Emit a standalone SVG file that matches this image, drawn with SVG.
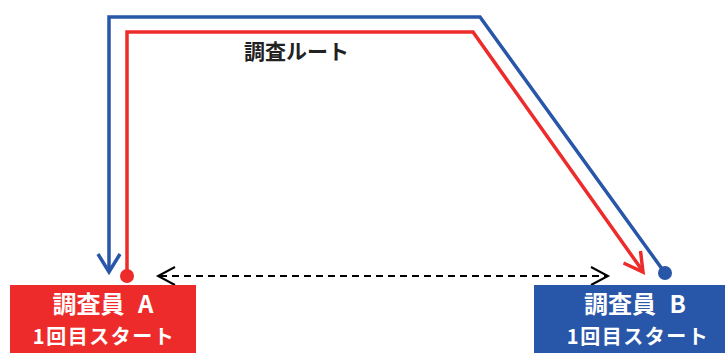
<svg xmlns="http://www.w3.org/2000/svg" width="725" height="353" viewBox="0 0 725 353">
<style>
.route{fill:none;stroke-width:3.5;stroke-linejoin:miter}
.blue{stroke:#2856a8}
.red{stroke:#ee2b2b}
.head{fill:none;stroke-width:3.5;stroke-linecap:butt;stroke-linejoin:miter}
.dash{fill:none;stroke:#000;stroke-width:2;stroke-dasharray:7,5}
.dhead{fill:none;stroke:#000;stroke-width:2}
.t1{font-family:"Noto Sans CJK JP","Liberation Sans",sans-serif;font-weight:bold;font-size:24px;fill:#fff;text-anchor:middle;word-spacing:8px}
.t2{font-family:"Noto Sans CJK JP","Liberation Sans",sans-serif;font-weight:bold;font-size:20px;fill:#fff;text-anchor:middle;letter-spacing:1.5px}
.title{font-family:"Noto Sans CJK JP","Liberation Sans",sans-serif;font-weight:bold;font-size:21px;fill:#222}
</style>
<rect width="725" height="353" fill="#fff"/>
<g id="connectors">
<path class="route blue" d="M665,273 L480,17 L109,17 L109,271"/>
<path class="head blue" d="M98,254 L109,272 L120,254"/>
<circle cx="665" cy="273" r="7" fill="#2856a8"/>
<path class="route red" d="M127,276 L127,32 L473,32 L642,270"/>
<path class="head red" d="M640.5,251 L643,272 L623.5,263"/>
<circle cx="127" cy="276" r="7" fill="#ee2b2b"/>
<line class="dash" x1="160" y1="276" x2="606" y2="276"/>
<path class="dhead" d="M175,267 L158,276 L175,285"/>
<path class="dhead" d="M591,267 L608,276 L591,285"/>
</g>
<g id="label-route">
<text class="title" x="244" y="59">調査ルート</text>
</g>
<g id="node-a">
<rect x="10" y="285" width="186" height="68" fill="#ee2b2b"/>
<text class="t1" x="103" y="313">調査員 A</text>
<text class="t2" x="104" y="344">1回目スタート</text>
</g>
<g id="node-b">
<rect x="534" y="285" width="204" height="68" fill="#2856a8"/>
<text class="t1" x="635" y="313">調査員 B</text>
<text class="t2" x="638" y="344">1回目スタート</text>
</g>
</svg>
